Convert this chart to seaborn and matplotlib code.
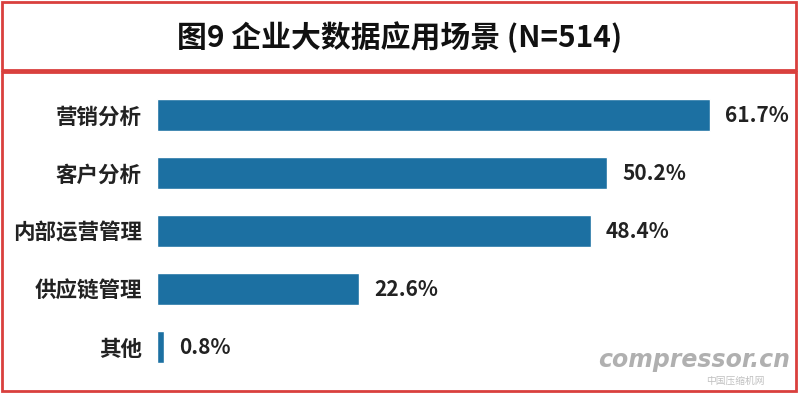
import matplotlib
matplotlib.use("Agg")
import matplotlib.pyplot as plt
import seaborn as sns
import pandas as pd
from matplotlib.patches import Rectangle

categories = ["营销分析", "客户分析", "内部运营管理", "供应链管理", "其他"]
values = [61.7, 50.2, 48.4, 22.6, 0.8]
value_labels = ["61.7%", "50.2%", "48.4%", "22.6%", "0.8%"]
title = "图9 企业大数据应用场景 (N=514)"

sns.set_theme(style="white")
plt.rcParams["font.family"] = ["Noto Sans CJK SC", "DejaVu Sans"]

W, H = 799, 393
fig = plt.figure(figsize=(W / 100, H / 100), dpi=100)
fig.patch.set_facecolor("white")

# frames
red = "#d9403d"
def px_rect(x0, y0, x1, y1):
    return Rectangle((x0 / W, 1 - y1 / H), (x1 - x0) / W, (y1 - y0) / H,
                     transform=fig.transFigure, fill=False, edgecolor=red,
                     linewidth=2.0, zorder=10)
fig.add_artist(px_rect(1.5, 1.5, 796, 69.5))
fig.add_artist(px_rect(1.5, 72, 796, 390.5))

fig.text(400 / W, 1 - 37 / H, title, ha="center", va="center",
         fontsize=21.5, color="#111111", fontweight="bold")

# axes: x from 157px, 8.96 px per unit
left = 157
xmax = 70
width_px = xmax * 8.96
top_px, bot_px = 115 - 29, 347 + 29
ax = fig.add_axes([left / W, 1 - bot_px / H, width_px / W, (bot_px - top_px) / H])
df = pd.DataFrame({"cat": categories, "val": values})
sns.barplot(data=df, x="val", y="cat", orient="h", color="#1c70a2",
            saturation=1, width=0.56, ax=ax)
ax.set_xlim(0, xmax)
ax.set_ylim(4.5, -0.5)
for s in ax.spines.values():
    s.set_visible(False)
ax.set_xticks([])
ax.set_xlabel("")
ax.set_ylabel("")
ax.tick_params(axis="y", length=0, pad=11, labelsize=15.5, labelcolor="#222222")
for lab in ax.get_yticklabels():
    lab.set_fontweight("bold")
ax.patch.set_alpha(0)

for i, (v, t) in enumerate(zip(values, value_labels)):
    ax.annotate(t, (v, i), xytext=(11, 0), textcoords="offset points",
                ha="left", va="center", fontsize=15, fontweight="bold",
                color="#222222")

# watermark
fig.text(694 / W, 1 - 360 / H, "compressor.cn", ha="center", va="center",
         fontsize=17, fontweight="bold", style="italic", color="#b0b0b0",
         family=["DejaVu Sans"])
fig.text(735 / W, 1 - 381 / H, "中国压缩机网", ha="center", va="center",
         fontsize=7, style="italic", color="#c0c0c0")

fig.savefig("out.png", dpi=100)
